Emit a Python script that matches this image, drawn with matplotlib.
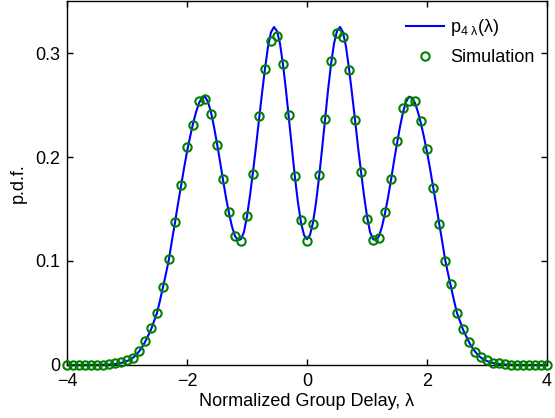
import numpy as np
import matplotlib
matplotlib.use('Agg')
import matplotlib.pyplot as plt

plt.rcParams['font.family'] = ['Liberation Sans', 'DejaVu Sans']
plt.rcParams['mathtext.fontset'] = 'custom'
plt.rcParams['mathtext.rm'] = 'Liberation Sans'
plt.rcParams['mathtext.it'] = 'Liberation Sans'
plt.rcParams['mathtext.default'] = 'regular'

# theoretical curve p_4(lambda) at 0.05 steps
theory_x = np.round(np.arange(-4.0, 4.0001, 0.05), 2)
theory_pos = [0.121, 0.125, 0.137, 0.156, 0.180, 0.207, 0.236, 0.264, 0.289, 0.309,
              0.321, 0.325, 0.320, 0.306, 0.285, 0.261, 0.236, 0.210, 0.186, 0.163,
              0.143, 0.128, 0.121, 0.120, 0.124, 0.133, 0.146, 0.161, 0.178, 0.196,
              0.213, 0.229, 0.243, 0.253, 0.258, 0.257, 0.252, 0.243, 0.232, 0.219,
              0.205, 0.189, 0.172, 0.155, 0.137, 0.120, 0.102, 0.088, 0.075, 0.062,
              0.050, 0.042, 0.034, 0.028, 0.022, 0.017, 0.013, 0.0095, 0.007, 0.005,
              0.0038, 0.0027, 0.0019, 0.0013, 0.0009, 0.0006, 0.0004, 0.0003, 0.0002, 0.00015,
              0.0001, 0.00007, 0.00005, 0.00003, 0.00002, 0.00001, 0.0, 0.0, 0.0, 0.0,
              0.0]
theory_y = theory_pos[:0:-1] + theory_pos

# simulated histogram values at 0.1 steps
sim_x = np.round(np.arange(-4.0, 4.0001, 0.1), 1)
sim_y = [0.0, 0.0, 0.0, 0.0, 0.0001, 0.0002, 0.0004, 0.0010, 0.0018, 0.0032,
         0.0045, 0.0067, 0.0138, 0.0228, 0.0353, 0.0503, 0.0753, 0.102, 0.1375, 0.173,
         0.210, 0.231, 0.254, 0.256, 0.241, 0.212, 0.1785, 0.1468, 0.124, 0.119,
         0.1436, 0.184, 0.239, 0.285, 0.312, 0.316, 0.289, 0.240, 0.182, 0.139,
         0.1195, 0.136, 0.183, 0.2365, 0.292, 0.319, 0.315, 0.2833, 0.236, 0.1855,
         0.1404, 0.120, 0.1218, 0.147, 0.1788, 0.215, 0.2468, 0.2535, 0.2535, 0.235,
         0.2077, 0.170, 0.1356, 0.1003, 0.0779, 0.0503, 0.0346, 0.0224, 0.0128, 0.0077,
         0.0045, 0.0022, 0.0015, 0.0008, 0.0004, 0.0002, 0.0001, 0.0, 0.0, 0.0,
         0.0]

fig = plt.figure(figsize=(5.55, 4.18), dpi=100)
ax = fig.add_axes([0.1207, 0.1268, 0.8649, 0.8708])

ax.plot(theory_x, theory_y, color='#0000ff', lw=1.5, label=r'p$_{4\ \lambda}$($\lambda$)', zorder=2)
ax.plot(sim_x, sim_y, 'o', mfc='none', mec='#008000', mew=1.5, ms=6,
        label='Simulation', zorder=3, clip_on=False)

ax.set_xlim(-4, 4)
ax.set_ylim(0, 0.35)
ax.set_xticks([-4, -2, 0, 2, 4])
ax.set_yticks([0, 0.1, 0.2, 0.3])
ax.set_yticklabels(['0', '0.1', '0.2', '0.3'])
ax.tick_params(direction='in', top=True, right=True, length=4, width=1, labelsize=13)
ax.tick_params(axis='x', pad=6)
ax.tick_params(axis='y', pad=5)
for s in ax.spines.values():
    s.set_linewidth(1.0)

ax.set_xlabel('Normalized Group Delay, λ', fontsize=13, labelpad=2)
ax.set_ylabel('p.d.f.', fontsize=13, labelpad=6)

ax.legend(loc='upper right', bbox_to_anchor=(1.0, 0.99), frameon=False, fontsize=13,
          handlelength=2.1, handletextpad=0.35, borderaxespad=0.3, labelspacing=0.6,
          numpoints=1)

fig.savefig('out.png', dpi=100)
